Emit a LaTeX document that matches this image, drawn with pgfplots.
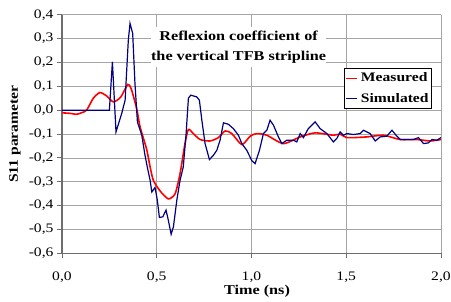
\documentclass[border=0pt]{standalone}
\usepackage{fontspec}
\setmainfont[FakeStretch=1.2]{Liberation Serif}
\usepackage{pgfplots}
\pgfplotsset{compat=1.18}
\definecolor{gridgray}{RGB}{165,165,165}
\definecolor{axgray}{RGB}{110,110,110}
\definecolor{navyblue}{RGB}{0,0,128}
\begin{document}
\begin{tikzpicture}[x=1pt,y=1pt]
\useasboundingbox (-62,-48.7) rectangle (389,253.3);
\begin{axis}[
  scale only axis,
  width=379pt, height=238.5pt,
  xmin=0, xmax=2, ymin=-0.6, ymax=0.4,
  xtick={0,0.5,1,1.5,2},
  ytick={-0.6,-0.5,-0.4,-0.3,-0.2,-0.1,0,0.1,0.2,0.3,0.4},
  axis x line*=bottom, axis y line*=left,
  axis line style={axgray, line width=1.1pt, -},
  tick style={axgray, line width=0.9pt},
  major tick length=5pt,
  tick align=outside,
  grid=major,
  major grid style={gridgray, line width=0.7pt},
  /pgf/number format/assume math mode=true,
  /pgf/number format/.cd, fixed, fixed zerofill, precision=1, use comma,
  /pgfplots/.cd,
  ticklabel style={font=\fontsize{13}{15}\selectfont},
  xticklabel style={yshift=-10pt},
  xlabel={Time (ns)},
  ylabel={S11 parameter},
  xlabel style={font=\fontsize{13.5}{15}\selectfont\bfseries, at={(axis description cs:0.5145,0)}, anchor=base, yshift=-41.7pt},
  ylabel style={font=\fontsize{13}{15}\selectfont\bfseries, at={(axis description cs:-0.124,0.5)}, anchor=center},
  legend style={at={(rel axis cs:0.976,0.777)}, anchor=north east, draw=black, line width=0.6pt,
    font=\fontsize{13}{15}\selectfont\bfseries, inner xsep=1pt, inner ysep=2.5pt,
    row sep=6pt, column sep=2pt},
  legend cell align=left,
  legend image code/.code={\draw[#1, line width=0.9pt] (0pt,0pt) -- (11pt,0pt);},
]
\addplot[red, line width=1.6pt, smooth, tension=0.4] coordinates {
(0,-0.011) (0.04,-0.013) (0.078,-0.017) (0.105,-0.010) (0.13,0.0) (0.165,0.050) (0.2,0.074)
(0.235,0.060) (0.271,0.035) (0.31,0.055) (0.347,0.108) (0.365,0.090) (0.394,0.007) (0.412,-0.07)
(0.447,-0.165) (0.465,-0.238) (0.482,-0.294) (0.517,-0.338) (0.561,-0.372) (0.597,-0.350) (0.623,-0.266)
(0.649,-0.140) (0.667,-0.081) (0.693,-0.098) (0.729,-0.123) (0.781,-0.129) (0.825,-0.115)
(0.861,-0.087) (0.896,-0.098) (0.949,-0.144) (0.993,-0.109) (1.028,-0.098) (1.081,-0.105)
(1.168,-0.140) (1.257,-0.112) (1.336,-0.095) (1.432,-0.105) (1.468,-0.100) (1.503,-0.115)
(1.609,-0.112) (1.696,-0.105) (1.785,-0.123) (1.873,-0.123) (1.943,-0.129) (2.0,-0.123)
};
\addlegendentry{Measured}
\addplot[navyblue, line width=1.2pt] coordinates {
(0,0) (0.25,0) (0.266,0.203) (0.285,-0.091) (0.315,-0.014) (0.333,0.042) (0.350,0.294)
(0.359,0.364) (0.373,0.322) (0.385,0.112) (0.398,-0.049) (0.421,-0.105) (0.438,-0.189)
(0.450,-0.238) (0.465,-0.294) (0.474,-0.343) (0.491,-0.324) (0.503,-0.377) (0.514,-0.450)
(0.532,-0.447) (0.549,-0.419) (0.561,-0.461) (0.576,-0.520) (0.588,-0.489) (0.606,-0.377)
(0.623,-0.294) (0.640,-0.238) (0.655,-0.098) (0.667,0.050) (0.679,0.063) (0.711,0.056)
(0.725,0.042) (0.738,-0.042) (0.755,-0.140) (0.778,-0.207) (0.799,-0.189) (0.817,-0.168)
(0.834,-0.126) (0.852,-0.053) (0.878,-0.059) (0.904,-0.077) (0.931,-0.105) (0.949,-0.140)
(0.975,-0.168) (1.002,-0.212) (1.019,-0.224) (1.042,-0.168) (1.063,-0.098) (1.081,-0.084)
(1.098,-0.042) (1.116,-0.063) (1.142,-0.112) (1.160,-0.140) (1.186,-0.126) (1.221,-0.126)
(1.239,-0.133) (1.257,-0.098) (1.274,-0.115) (1.300,-0.077) (1.336,-0.049) (1.362,-0.077)
(1.398,-0.098) (1.432,-0.133) (1.450,-0.119) (1.468,-0.091) (1.485,-0.105) (1.503,-0.098)
(1.538,-0.102) (1.573,-0.098) (1.591,-0.084) (1.626,-0.098) (1.653,-0.129) (1.679,-0.112)
(1.714,-0.109) (1.741,-0.084) (1.767,-0.109) (1.785,-0.123) (1.855,-0.123) (1.881,-0.115)
(1.908,-0.140) (1.934,-0.137) (1.952,-0.123) (1.978,-0.126) (2.0,-0.115)
};
\addlegendentry{Simulated}
\node[fill=white, inner sep=0pt, minimum width=173pt, minimum height=40pt, align=center,
  font=\fontsize{13.5}{20}\selectfont\bfseries] at (axis cs:0.932,0.264)
  {Reflexion coefficient of\\the vertical TFB stripline};
\end{axis}
\end{tikzpicture}
\end{document}
